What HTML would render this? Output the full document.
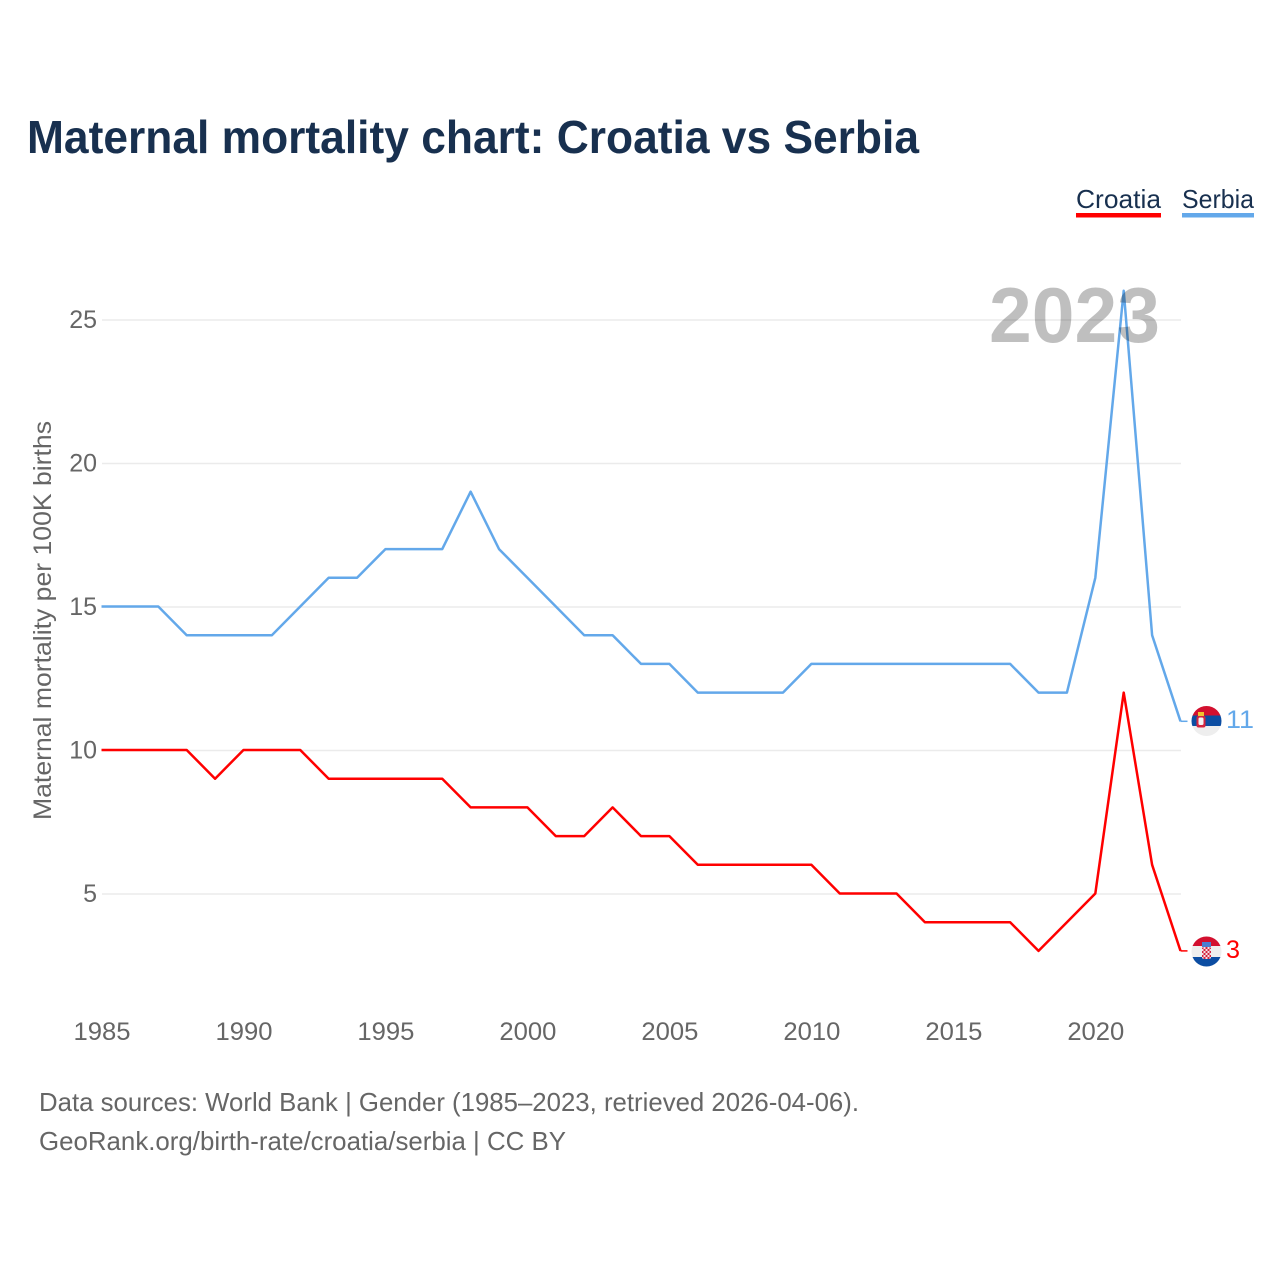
<!DOCTYPE html>
<html lang="en">
<head>
<meta charset="utf-8">
<title>Maternal mortality chart: Croatia vs Serbia</title>
<style>
html,body{margin:0;padding:0;background:#fff;width:1280px;height:1280px;overflow:hidden}
svg{display:block}
text{font-family:"Liberation Sans",sans-serif}
</style>
</head>
<body>
<svg id="chart" xmlns="http://www.w3.org/2000/svg" width="1280" height="1280" viewBox="0 0 1280 1280">
  <defs>
    <clipPath id="clip-serbia"><circle cx="1206.500" cy="721" r="15"/></clipPath>
    <clipPath id="clip-croatia"><circle cx="1206.500" cy="951.500" r="15"/></clipPath>
    <pattern id="checker" x="1201.500" y="947" width="4" height="4" patternUnits="userSpaceOnUse">
      <rect width="4" height="4" fill="#f7dfe3"/>
      <rect width="2" height="2" fill="#d3243f"/>
      <rect x="2" y="2" width="2" height="2" fill="#d3243f"/>
    </pattern>
  </defs>
  <rect width="1280" height="1280" fill="#fff"/>
  <text x="27" y="153" font-size="46" font-weight="700" fill="#18304f" textLength="892" lengthAdjust="spacingAndGlyphs">Maternal mortality chart: Croatia vs Serbia</text>

  <g>
    <text x="1076" y="208" font-size="26" fill="#18304f" textLength="85" lengthAdjust="spacingAndGlyphs">Croatia</text>
    <rect x="1076" y="213" width="85" height="4.500" fill="#ff0000"/>
  </g>
  <g>
    <text x="1182" y="208" font-size="26" fill="#18304f" textLength="72" lengthAdjust="spacingAndGlyphs">Serbia</text>
    <rect x="1182" y="213" width="72" height="4.500" fill="#63a8ea"/>
  </g>

  <g id="grid"></g>
  <g id="y-axis"></g>
  <g id="x-axis"></g>

  <text transform="translate(51 820) rotate(-90)" font-size="25" fill="#666" textLength="399" lengthAdjust="spacingAndGlyphs">Maternal mortality per 100K births</text>

  <g id="series" transform="translate(-0.5 -0.5)"></g>

  <text x="1160" y="342" text-anchor="end" font-size="78" font-weight="700" fill="#000" fill-opacity="0.25" textLength="171" lengthAdjust="spacingAndGlyphs">2023</text>

  <g>
    <g clip-path="url(#clip-serbia)">
      <rect x="1191" y="706" width="31" height="9.500" fill="#d3102f"/>
      <rect x="1191" y="715.500" width="31" height="10.500" fill="#0c4da2"/>
      <rect x="1191" y="726" width="31" height="11" fill="#eeeeee"/>
      <rect x="1198" y="712" width="6" height="4" fill="#f2c230"/>
      <rect x="1196.500" y="716" width="9" height="11.500" rx="2" fill="#d3243f"/>
      <rect x="1198.500" y="717.500" width="5" height="7.500" rx="1.500" fill="#f4f4f4"/>
    </g>
  </g>
  <g>
    <g clip-path="url(#clip-croatia)">
      <rect x="1191" y="936" width="31" height="10" fill="#d3102f"/>
      <rect x="1191" y="946" width="31" height="11" fill="#eeeeee"/>
      <rect x="1191" y="957" width="31" height="10" fill="#0c4da2"/>
      <rect x="1202" y="942" width="9" height="5" fill="#4a7fd0"/>
      <rect x="1202" y="947" width="9" height="12" rx="2" fill="url(#checker)"/>
    </g>
  </g>
  <text x="1226" y="728" font-size="25" fill="#63a8ea" textLength="28" lengthAdjust="spacingAndGlyphs">11</text>
  <text x="1226" y="958" font-size="25" fill="#ff0000" textLength="14" lengthAdjust="spacingAndGlyphs">3</text>

  <text x="39" y="1111" font-size="26" fill="#666" textLength="820" lengthAdjust="spacingAndGlyphs">Data sources: World Bank | Gender (1985–2023, retrieved 2026-04-06).</text>
  <text x="39" y="1150" font-size="26" fill="#666" textLength="527" lengthAdjust="spacingAndGlyphs">GeoRank.org/birth-rate/croatia/serbia | CC BY</text>
</svg>
<script>
const years = [1985,1986,1987,1988,1989,1990,1991,1992,1993,1994,1995,1996,1997,1998,1999,2000,2001,2002,2003,2004,2005,2006,2007,2008,2009,2010,2011,2012,2013,2014,2015,2016,2017,2018,2019,2020,2021,2022,2023];
const serbiaValues = [15,15,15,14,14,14,14,15,16,16,17,17,17,19,17,16,15,14,14,13,13,12,12,12,12,13,13,13,13,13,13,13,13,12,12,16,26,14,11];
const croatiaValues = [10,10,10,10,9,10,10,10,9,9,9,9,9,8,8,8,7,7,8,7,7,6,6,6,6,6,5,5,5,4,4,4,4,3,4,5,12,6,3];
const yTicks = [5,10,15,20,25];
const xTicks = [1985,1990,1995,2000,2005,2010,2015,2020];

const NS = 'http://www.w3.org/2000/svg';
function xScale(year){ return 102 + (year - 1985) * (1181 - 102) / 38; }
function yScale(value){ return 894 - (value - 5) * (894 - 320) / 20; }
function make(tag, attrs, parent, text){
  const el = document.createElementNS(NS, tag);
  for (const k in attrs) el.setAttribute(k, attrs[k]);
  if (text !== undefined) el.textContent = text;
  parent.appendChild(el);
  return el;
}

const grid = document.getElementById('grid');
const yAxis = document.getElementById('y-axis');
const xAxis = document.getElementById('x-axis');
const seriesGroup = document.getElementById('series');

yTicks.forEach(function(t){
  const line = make('line', {x1:102, x2:1181, y1:yScale(t), y2:yScale(t), stroke:'#ebebeb', 'stroke-width':1.500}, grid);
  
  
  const label = make('text', {x:97, y:yScale(t)+8, 'text-anchor':'end', 'font-size':25, fill:'#666'}, yAxis, String(t));
  
  
});

xTicks.forEach(function(t){
  const label = make('text', {x:xScale(t), y:1040, 'text-anchor':'middle', 'font-size':25, fill:'#666', textLength:57, lengthAdjust:'spacingAndGlyphs'}, xAxis, String(t));
  
  
});

function linePoints(values){
  return values.map(function(v, i){ return xScale(years[i]).toFixed(2) + ',' + yScale(v).toFixed(2); }).join(' ');
}
function endStub(values){
  const y = yScale(values[values.length - 1]);
  return (xScale(years[years.length - 1])).toFixed(2) + ',' + y.toFixed(2) + ' 1188,' + y.toFixed(2);
}

const serbiaLine = make('polyline', {points:linePoints(serbiaValues), fill:'none', stroke:'#63a8ea', 'stroke-width':2.500, 'stroke-linejoin':'round'}, seriesGroup);



const serbiaStub = make('polyline', {points:endStub(serbiaValues), fill:'none', stroke:'#63a8ea', 'stroke-width':1.500}, seriesGroup);



const croatiaLine = make('polyline', {points:linePoints(croatiaValues), fill:'none', stroke:'#ff0000', 'stroke-width':2.500, 'stroke-linejoin':'round'}, seriesGroup);



const croatiaStub = make('polyline', {points:endStub(croatiaValues), fill:'none', stroke:'#ff0000', 'stroke-width':1.500}, seriesGroup);


</script>
</body>
</html>
